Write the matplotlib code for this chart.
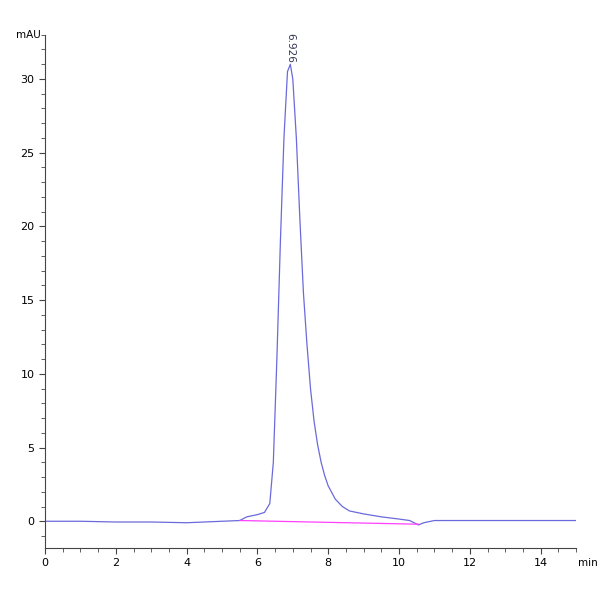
import numpy as np
import matplotlib.pyplot as plt
from matplotlib.ticker import MultipleLocator

# retention time (min) and signal (mAU)
t = [0, 1, 2, 3, 4, 5, 5.5, 5.7, 6.0, 6.2, 6.35, 6.45, 6.55, 6.65, 6.75, 6.85, 6.93,
     7.0, 7.1, 7.2, 7.3, 7.4, 7.5, 7.6, 7.7, 7.8, 7.9, 8.0, 8.2, 8.4, 8.6, 9.0,
     9.5, 10.0, 10.3, 10.55, 10.7, 11.0, 11.5, 12, 13, 14, 15]
mau = [0, 0, -0.05, -0.05, -0.1, 0, 0.05, 0.3, 0.45, 0.6, 1.2, 4, 11, 19, 26, 30.5, 31,
       30, 26, 20.5, 15.5, 12, 9, 6.8, 5.2, 4, 3.1, 2.4, 1.5, 1.0, 0.7, 0.5,
       0.3, 0.15, 0.05, -0.25, -0.1, 0.05, 0.05, 0.05, 0.05, 0.05, 0.05]
bl_t = [5.5, 10.55]
bl_y = [0.05, -0.2]
peak_rt = 6.926

fig = plt.figure(figsize=(6, 6), dpi=100)
ax = fig.add_axes([0.075, 0.087, 0.885, 0.86])
ax.plot(t, mau, color='#6a6adc', lw=0.9)
ax.plot(bl_t, bl_y, color='#ff40ff', lw=0.9)
ax.text(peak_rt, 31.1, "6.926", rotation=270, ha='center', va='bottom', fontsize=7.5, color='#333355')

ax.set_xlim(0, 15)
ax.set_ylim(-1.8, 33.2)
for s in ['top', 'right']:
    ax.spines[s].set_visible(False)
ax.spines['left'].set_bounds(-1.8, 33)
ax.spines['left'].set_color('#444444')
ax.spines['bottom'].set_color('#444444')
ax.xaxis.set_major_locator(MultipleLocator(2))
ax.xaxis.set_minor_locator(MultipleLocator(0.5))
ax.yaxis.set_major_locator(MultipleLocator(5))
ax.yaxis.set_minor_locator(MultipleLocator(1))
ax.set_yticks(np.arange(0, 31, 5))
ax.tick_params(labelsize=8, length=4, color='#444444')
ax.tick_params(which='minor', length=3, color='#444444')
ax.text(-0.12, 33, "mAU", ha='right', va='center', fontsize=7.5)
ax.text(15.05, -2.8, "min", ha='left', va='center', fontsize=7.5)
fig.savefig("out.png")
